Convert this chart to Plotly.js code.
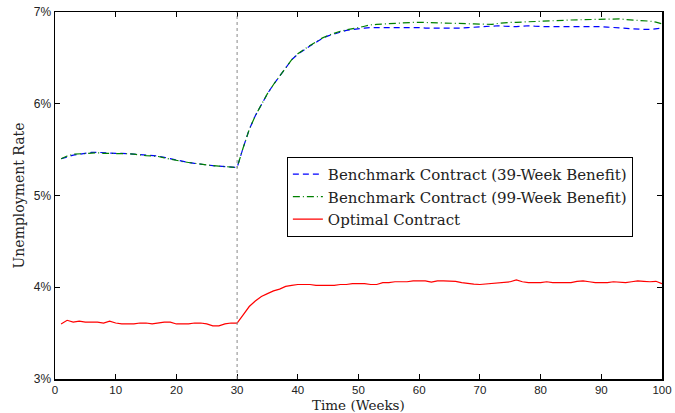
<!DOCTYPE html>
<html>
<head>
<meta charset="utf-8">
<script src="https://cdn.plot.ly/plotly-3.0.1.min.js"></script>
<style>html,body{margin:0;padding:0;background:#fff;}#chart{width:675px;height:413px;}</style>
</head>
<body>
<div id="chart"></div>
<script>
const weeks = Array.from({length: 100}, (_, i) => i + 1);

const bench39 = [
 5.40,5.42,5.44,5.45,5.46,5.47,5.47,5.465,5.465,5.46,
 5.46,5.455,5.45,5.445,5.44,5.435,5.43,5.415,5.40,5.385,
 5.37,5.36,5.35,5.34,5.33,5.325,5.32,5.315,5.31,5.305,
 5.52,5.72,5.87,5.99,6.11,6.21,6.30,6.40,6.48,6.54,
 6.59,6.63,6.67,6.71,6.74,6.76,6.78,6.80,6.81,6.82,
 6.825,6.83,6.83,6.83,6.835,6.835,6.835,6.835,6.837,6.83,
 6.825,6.825,6.82,6.82,6.82,6.825,6.825,6.83,6.835,6.837,
 6.84,6.845,6.85,6.845,6.84,6.84,6.845,6.85,6.845,6.84,
 6.84,6.84,6.84,6.84,6.84,6.84,6.842,6.845,6.845,6.84,
 6.835,6.83,6.825,6.82,6.815,6.81,6.81,6.81,6.815,6.825
];

const bench99 = [
 5.40,5.43,5.45,5.455,5.46,5.465,5.465,5.46,5.46,5.46,
 5.455,5.455,5.45,5.44,5.435,5.43,5.425,5.41,5.395,5.38,
 5.37,5.36,5.35,5.345,5.335,5.325,5.32,5.315,5.31,5.305,
 5.52,5.72,5.87,5.99,6.11,6.21,6.30,6.40,6.48,6.545,
 6.595,6.635,6.675,6.715,6.745,6.77,6.79,6.805,6.815,6.83,
 6.845,6.86,6.865,6.87,6.875,6.88,6.885,6.885,6.887,6.888,
 6.887,6.885,6.882,6.88,6.878,6.875,6.873,6.872,6.87,6.868,
 6.862,6.865,6.875,6.885,6.888,6.888,6.89,6.89,6.892,6.895,
 6.898,6.902,6.905,6.91,6.913,6.915,6.917,6.917,6.918,6.92,
 6.925,6.93,6.925,6.918,6.915,6.91,6.905,6.90,6.89,6.87
];

const optimal = [
 3.60,3.64,3.62,3.63,3.62,3.62,3.62,3.61,3.63,3.61,
 3.60,3.60,3.60,3.61,3.61,3.60,3.61,3.62,3.62,3.60,
 3.60,3.60,3.61,3.61,3.60,3.58,3.58,3.60,3.61,3.61,
 3.70,3.79,3.85,3.90,3.93,3.96,3.98,4.01,4.02,4.03,
 4.03,4.03,4.02,4.02,4.02,4.02,4.03,4.03,4.04,4.04,
 4.04,4.03,4.03,4.05,4.05,4.06,4.06,4.06,4.07,4.07,
 4.07,4.055,4.07,4.07,4.07,4.065,4.05,4.04,4.035,4.03,
 4.035,4.045,4.05,4.05,4.06,4.08,4.06,4.05,4.05,4.05,
 4.06,4.05,4.05,4.05,4.05,4.065,4.07,4.06,4.05,4.05,
 4.05,4.06,4.055,4.05,4.06,4.07,4.065,4.06,4.065,4.04
];

const seriesNames = [
 'Benchmark Contract (39-Week Benefit)',
 'Benchmark Contract (99-Week Benefit)',
 'Optimal Contract'
];
const xTitle = 'Time (Weeks)';
const yTitle = 'Unemployment Rate';
const xTickVals = [0,10,20,30,40,50,60,70,80,90,100];
const yTickVals = [3,4,5,6,7];
const yTickText = ['3%','4%','5%','6%','7%'];
const shockWeek = 30;

const serif = '"DejaVu Serif", "Liberation Serif", serif';
const sans = '"Liberation Sans", Arial, sans-serif';

const traces = [
 {x: weeks, y: bench39, name: seriesNames[0], mode: 'lines',
  line: {color: '#0000ff', width: 1.2, dash: '6px,4px'}},
 {x: weeks, y: bench99, name: seriesNames[1], mode: 'lines',
  line: {color: '#008000', width: 1.2, dash: '7px,3px,1px,3px'}},
 {x: weeks, y: optimal, name: seriesNames[2], mode: 'lines',
  line: {color: '#ff0000', width: 1.2}}
];

const axisCommon = {
 showgrid: false, zeroline: false, showline: true, linecolor: '#000', linewidth: 1.5,
 mirror: 'ticks', ticks: 'inside', ticklen: 5, tickcolor: '#000', tickwidth: 1,
 tickfont: {family: sans, size: 11.5, color: '#222'}, automargin: false
};

const layout = {
 width: 675, height: 413,
 margin: {l: 55, r: 13, t: 12, b: 34},
 paper_bgcolor: '#fff', plot_bgcolor: '#fff',
 showlegend: true,
 legend: {x: 0.382, y: 0.605, xanchor: 'left', yanchor: 'top',
  bgcolor: '#fff', bordercolor: '#000', borderwidth: 1,
  font: {family: serif, size: 15, color: '#222'}, tracegroupgap: 0},
 xaxis: Object.assign({}, axisCommon, {
  range: [0, 100], tickvals: xTickVals
 }),
 yaxis: Object.assign({}, axisCommon, {
  range: [3, 7], tickvals: yTickVals, ticktext: yTickText,
  tickfont: {family: sans, size: 12, color: '#222'},
  title: {text: yTitle, font: {family: serif, size: 14, color: '#222'}, standoff: 6}
 }),
 annotations: [{text: xTitle, xref: 'paper', yref: 'paper', x: 0.5, y: -0.0965,
  xanchor: 'center', yanchor: 'bottom', showarrow: false, borderpad: 0,
  font: {family: serif, size: 13.5, color: '#222'}}],
 shapes: [{type: 'line', xref: 'x', yref: 'paper', x0: shockWeek, x1: shockWeek, y0: 0, y1: 1,
  line: {color: '#888', width: 1, dash: 'dot'}}]
};

Plotly.newPlot('chart', traces, layout, {displayModeBar: false, staticPlot: true});
</script>
</body>
</html>
